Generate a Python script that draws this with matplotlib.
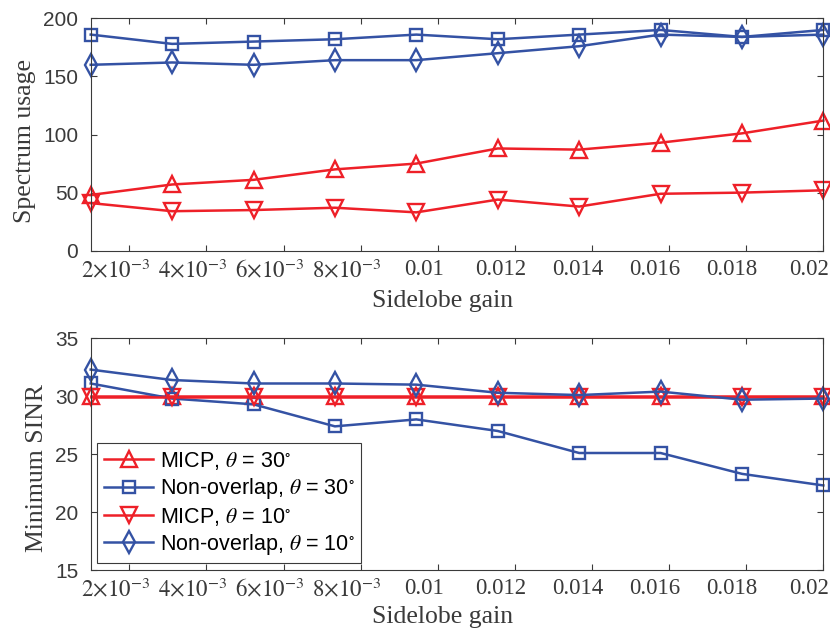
import numpy as np
import matplotlib
matplotlib.use('Agg')
import matplotlib.pyplot as plt
import matplotlib.transforms as mtransforms

# ---------------------------------------------------------------------------
# data
# ---------------------------------------------------------------------------
sidelobe_gain = [0.001, 0.003111, 0.005222, 0.007333, 0.009444,
                 0.011556, 0.013667, 0.015778, 0.017889, 0.02]

# spectrum usage
usage_micp_30 = [48, 57, 61, 70, 75, 88, 87, 93, 101, 112]
usage_nonov_30 = [186, 178, 180, 182, 186, 182, 186, 190, 184, 190]
usage_micp_10 = [41, 34, 35, 37, 33, 44, 38, 49, 50, 52]
usage_nonov_10 = [160, 162, 160, 164, 164, 170, 176, 186, 184, 186]

# minimum SINR
sinr_micp_30 = [30.0, 30.0, 30.0, 30.0, 30.0, 30.0, 30.0, 30.0, 30.0, 30.0]
sinr_nonov_30 = [31.1, 29.8, 29.3, 27.4, 28.0, 27.0, 25.1, 25.1, 23.3, 22.3]
sinr_micp_10 = [29.95, 29.95, 29.95, 29.95, 29.95, 29.95, 29.95, 29.95, 29.95, 29.95]
sinr_nonov_10 = [32.3, 31.4, 31.1, 31.1, 31.0, 30.3, 30.1, 30.4, 29.7, 29.8]

x_ticks = [0.002, 0.004, 0.006, 0.008, 0.01, 0.012, 0.014, 0.016, 0.018, 0.02]
x_tick_labels = [r'$2{\times}10^{-3}$', r'$4{\times}10^{-3}$', r'$6{\times}10^{-3}$',
                 r'$8{\times}10^{-3}$', '0.01', '0.012', '0.014', '0.016', '0.018', '0.02']

labels = ['MICP, $\\theta$ = 30$^{\\circ}$', 'Non-overlap, $\\theta$ = 30$^{\\circ}$',
          'MICP, $\\theta$ = 10$^{\\circ}$', 'Non-overlap, $\\theta$ = 10$^{\\circ}$']

# ---------------------------------------------------------------------------
RED = '#ee2028'
BLUE = '#3452a4'
AXC = '#3a3a3a'

plt.rcParams['mathtext.fontset'] = 'stix'
plt.rcParams['font.family'] = ['Liberation Sans', 'DejaVu Sans']

styles = [
    dict(color=RED, marker='^', markersize=11),
    dict(color=BLUE, marker='s', markersize=8.5),
    dict(color=RED, marker='v', markersize=11),
    dict(color=BLUE, marker='d', markersize=11),
]

fig = plt.figure(figsize=(8.3, 6.32), dpi=100)
ax1 = fig.add_axes([0.1093, 0.6033, 0.8827, 0.3677])
ax2 = fig.add_axes([0.1093, 0.0981, 0.8827, 0.3666])


def style_axis(ax, ylabel, xlab_y, ylab_xy):
    ax.set_xlim(0.001, 0.02)
    ax.set_xticks(x_ticks)
    ax.set_xticklabels(x_tick_labels, family='Liberation Serif', fontsize=16.5, color=AXC)
    ax.tick_params(axis='both', direction='in', top=True, right=True,
                   length=4, width=0.8, color=AXC)
    ax.tick_params(axis='x', pad=6)
    ax.tick_params(axis='y', pad=9, labelsize=15, labelcolor=AXC)
    # x texts sit a little left of the tick marks in the reference
    offset = mtransforms.ScaledTranslation(-14 / 100, 0, fig.dpi_scale_trans)
    for lab in ax.get_xticklabels():
        lab.set_transform(lab.get_transform() + offset)
    for sp in ax.spines.values():
        sp.set_color(AXC)
        sp.set_linewidth(0.8)
    ax.set_xlabel('Sidelobe gain', family='Liberation Serif', fontsize=18.5, color=AXC)
    ax.xaxis.set_label_coords(0.48, xlab_y)
    ax.set_ylabel(ylabel, family='Liberation Serif', fontsize=18.5, color=AXC)
    ax.yaxis.set_label_coords(*ylab_xy)


# top: spectrum usage
for ys, st in zip([usage_micp_30, usage_nonov_30, usage_micp_10, usage_nonov_10], styles):
    ax1.plot(sidelobe_gain, ys, linewidth=1.8, mfc='none', mew=1.7, clip_on=False, **st)
ax1.set_ylim(0, 200)
ax1.set_yticks([0, 50, 100, 150, 200])
style_axis(ax1, 'Spectrum usage', -0.167, (-0.075, 0.472))

# bottom: minimum SINR
for ys, st, lab in zip([sinr_micp_30, sinr_nonov_30, sinr_micp_10, sinr_nonov_10], styles, labels):
    ax2.plot(sidelobe_gain, ys, linewidth=1.8, mfc='none', mew=1.7, clip_on=False, label=lab, **st)
ax2.set_ylim(15, 35)
ax2.set_yticks([15, 20, 25, 30, 35])
style_axis(ax2, 'Minimum SINR', -0.155, (-0.058, 0.44))

leg = ax2.legend(loc='lower left', bbox_to_anchor=(0.009, 0.029), borderaxespad=0,
                 fontsize=15.5, fancybox=False, framealpha=1, edgecolor=AXC,
                 handlelength=2.3, handletextpad=0.3, labelspacing=0.2, borderpad=0.3)
leg.get_frame().set_linewidth(0.8)

fig.savefig('out.png', dpi=100)
